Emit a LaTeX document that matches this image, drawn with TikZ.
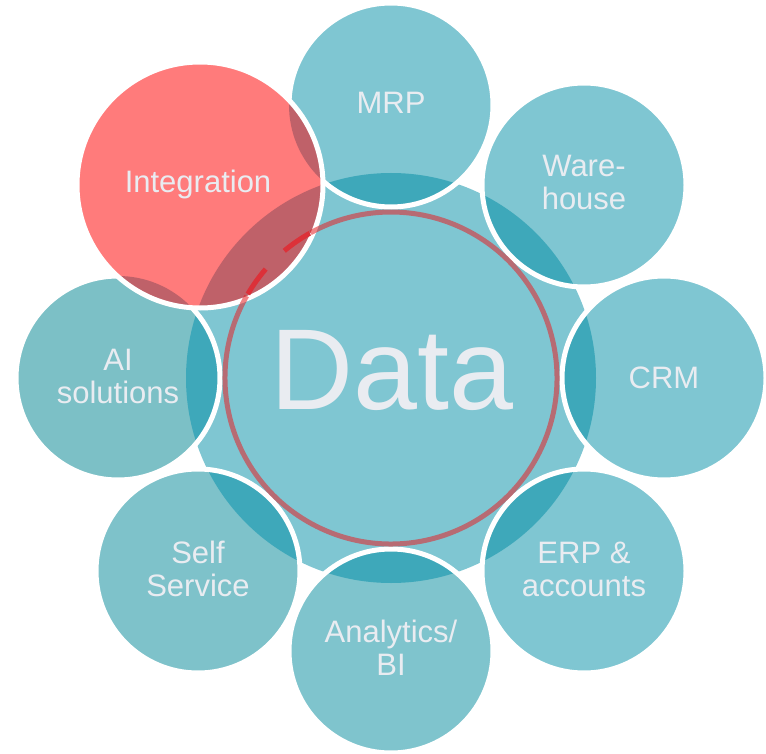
\documentclass[tikz,border=0pt]{standalone}
\usepackage{fontspec}
\setmainfont{Liberation Sans}
\definecolor{tealA}{HTML}{7FC6D2}
\definecolor{tealB}{HTML}{7EC2CA}
\definecolor{tealC}{HTML}{7FC4CD}
\definecolor{tealD}{HTML}{7CC0C6}
\definecolor{tealdark}{HTML}{3EA8BA}
\definecolor{redA}{HTML}{FF7B7B}
\definecolor{redB}{HTML}{BF6169}
\definecolor{dashred}{HTML}{DC3139}
\definecolor{ringred}{HTML}{E42429}
\definecolor{txt}{HTML}{E9ECF1}
\begin{document}
\begin{tikzpicture}[x=1pt,y=-1pt,
  lbl/.style={text=txt, font=\fontsize{31}{33}\selectfont, align=center, inner sep=0pt},
  whiteedge/.style={draw=white, line width=5pt},
  ringline/.style={draw=ringred, draw opacity=0.56, line width=5pt},
  dashseg/.style={draw=dashred, line width=5pt}]
\useasboundingbox (0,0) rectangle (766,754);
\coordinate (c) at (391,378);
\coordinate (mrp) at (391,105);
\coordinate (ware) at (584,185);
\coordinate (crm) at (664,378);
\coordinate (erp) at (584,571);
\coordinate (ana) at (391,651);
\coordinate (self) at (198,571);
\coordinate (ai) at (118,378);
\coordinate (int) at (200,185);
% big circle
\fill[tealA] (c) circle (205pt);
% satellites
\foreach \p/\col in {mrp/tealA, ware/tealA, crm/tealA, erp/tealA, ana/tealC, self/tealB, ai/tealD}
  \fill[\col] (\p) circle (102pt);
% overlaps with the big circle
\foreach \p in {mrp, ware, crm, erp, ana, self, ai} {
  \begin{scope}
    \clip (\p) circle (102pt);
    \fill[tealdark] (c) circle (205pt);
  \end{scope}
}
\foreach \p in {mrp, ware, crm, erp, ana, self, ai}
  \draw[whiteedge] (\p) circle (102pt);
% integration circle
\fill[redA] (int) circle (123pt);
\begin{scope}
  \clip (int) circle (123pt);
  \fill[redB] (c) circle (205pt);
  \fill[redB] (mrp) circle (102pt);
  \fill[redB] (ai) circle (102pt);
\end{scope}
\draw[whiteedge] (int) circle (123pt);
% ring
\draw[ringline] ([shift={(150.4:166pt)}]c) arc[start angle=150.4, end angle=479, radius=166pt];
\draw[dashseg] ([shift={(119.3:166pt)}]c) arc[start angle=119.3, end angle=130, radius=166pt];
\draw[dashseg] ([shift={(139:166pt)}]c) arc[start angle=139, end angle=149.6, radius=166pt];
% labels
\node[text=txt, font=\fontsize{115}{120}\selectfont, inner sep=0pt] (tdata) at (392,371) {Data};
\node[lbl] (tmrp) at (391,103) {MRP};
\node[lbl] (tware) at (584,182) {Ware-\\house};
\node[lbl] (tcrm) at (664,378) {CRM};
\node[lbl] (terp) at (584,569) {ERP \&\\accounts};
\node[lbl] (tana) at (391,648) {Analytics/\\BI};
\node[lbl] (tself) at (198,569) {Self\\Service};
\node[lbl] (tai) at (118,376) {AI\\solutions};
\node[lbl] (tint) at (198,184) {Integration};
\end{tikzpicture}
\end{document}
